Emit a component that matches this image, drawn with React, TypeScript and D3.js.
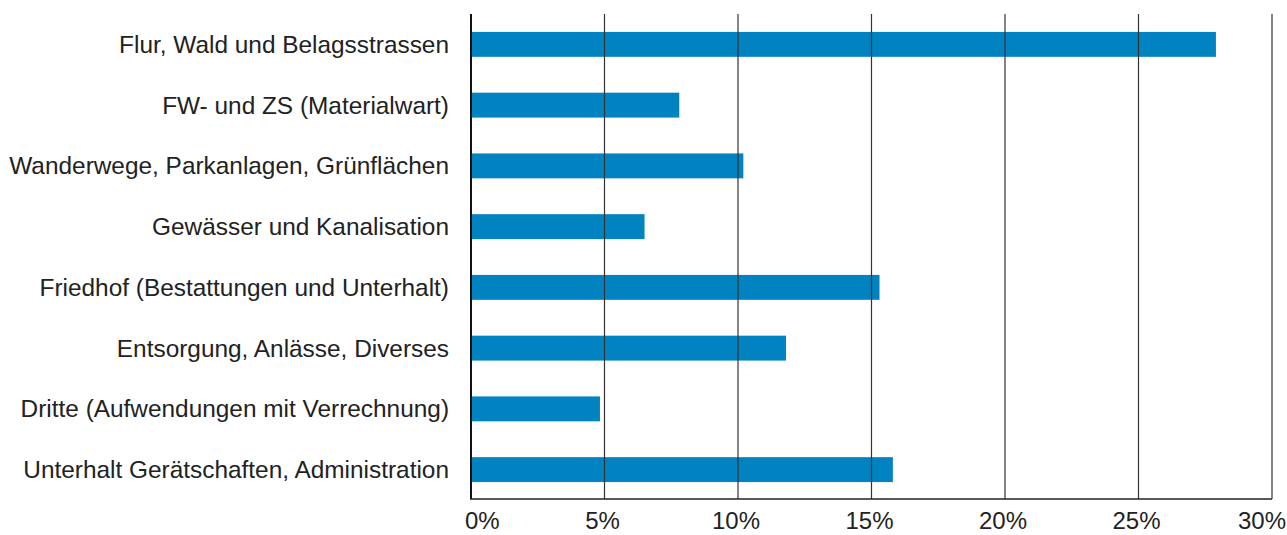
import React from "react";
import * as d3 from "d3";

const categories = [
  "Flur, Wald und Belagsstrassen",
  "FW- und ZS (Materialwart)",
  "Wanderwege, Parkanlagen, Grünflächen",
  "Gewässer und Kanalisation",
  "Friedhof (Bestattungen und Unterhalt)",
  "Entsorgung, Anlässe, Diverses",
  "Dritte (Aufwendungen mit Verrechnung)",
  "Unterhalt Gerätschaften, Administration",
];
const values = [27.9, 7.8, 10.2, 6.5, 15.3, 11.8, 4.83, 15.8];
const ticks = [0, 5, 10, 15, 20, 25, 30];

const W = 1287;
const H = 535;
const FONT = "'Liberation Sans', Arial, Helvetica, sans-serif";

export default function App() {
  const x = d3.scaleLinear().domain([0, 30]).range([471, 1272]);
  const y = d3
    .scaleBand<string>()
    .domain(categories)
    .range([14, 500])
    .paddingInner(0.59)
    .paddingOuter(0.295);
  const bottom = 499;
  return (
    <svg
      width={W}
      height={H}
      style={{ position: "fixed", left: 0, top: 0, background: "#fff" }}
    >
      {categories.map((c, i) => (
        <rect
          key={c}
          x={x(0)}
          y={y(c)!}
          width={x(values[i]) - x(0)}
          height={y.bandwidth()}
          fill="#0083c0"
        />
      ))}
      {ticks.slice(1).map((t) => (
        <line
          key={"g" + t}
          x1={x(t)}
          x2={x(t)}
          y1={14}
          y2={bottom}
          stroke="#333"
          strokeWidth={1.2}
        />
      ))}
      <line x1={x(0)} x2={x(0)} y1={14} y2={bottom} stroke="#111" strokeWidth={2} />
      <line x1={x(0) - 1} x2={x(30)} y1={bottom} y2={bottom} stroke="#222" strokeWidth={1.5} />
      {categories.map((c) => (
        <text
          key={"l" + c}
          x={449}
          y={y(c)! + y.bandwidth() / 2}
          dy="0.35em"
          textAnchor="end"
          fontFamily={FONT}
          fontSize={24.4}
          fill="#222"
        >
          {c}
        </text>
      ))}
      {ticks.map((t, i) => (
        <text
          key={"t" + t}
          x={i === 0 ? 465 : i === ticks.length - 1 ? 1286 : x(t) - 2}
          y={529}
          textAnchor={i === 0 ? "start" : i === ticks.length - 1 ? "end" : "middle"}
          fontFamily={FONT}
          fontSize={24}
          fill="#222"
        >
          {t + "%"}
        </text>
      ))}
    </svg>
  );
}
